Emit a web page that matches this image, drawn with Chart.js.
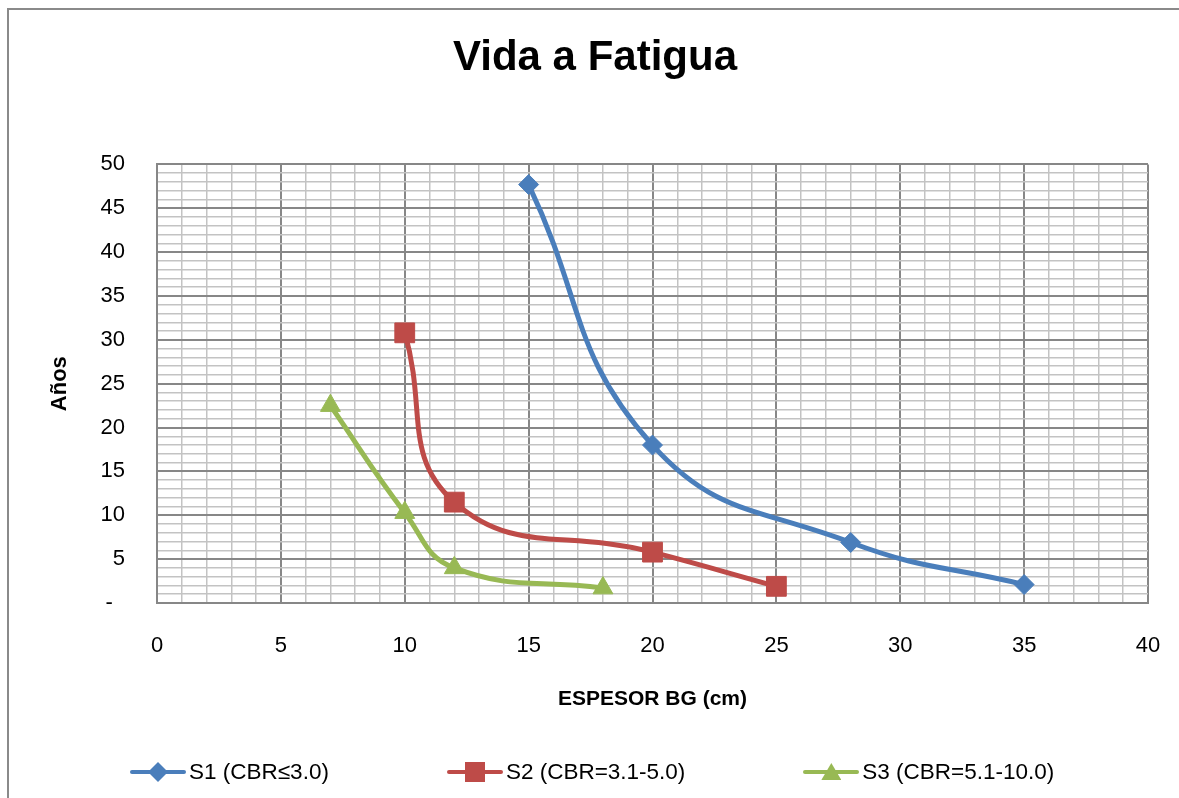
<!DOCTYPE html>
<html>
<head>
<meta charset="utf-8">
<script src="https://cdn.jsdelivr.net/npm/chart.js@4.4.1/dist/chart.umd.min.js"></script>
<style>
    html, body { margin: 0; padding: 0; background: #fff; }
    #wrap { position: relative; width: 1179px; height: 798px; overflow: hidden; }
    #frame {
        position: absolute; left: 7px; top: 8px; width: 1200px; height: 820px;
        border-top: 2px solid #8a8a8a; border-left: 2px solid #8a8a8a;
    }
    #chart { position: absolute; left: 0; top: 0; }
    #legend {
        position: absolute; left: 130px; top: 757px; display: flex; gap: 118px;
        font-family: "Liberation Sans Narrow", "Arial Narrow", "Liberation Sans", sans-serif;
        font-size: 22.5px; color: #000;
    }
    .item { display: flex; align-items: center; height: 30px; }
    .key { position: relative; width: 56px; height: 30px; margin-right: 3px; }
    .key .line { position: absolute; left: 0; right: 0; top: 13px; height: 4px; border-radius: 2px; }
    .key .mark { position: absolute; left: 18px; top: 5px; width: 20px; height: 20px; }
</style>
</head>
<body>
<div id="wrap">
    <div id="frame"></div>
    <canvas id="chart" width="1179" height="798"></canvas>
    <div id="legend"></div>
</div>
<script>
// espesor BG (cm) vs años
const espesorS1 = [15, 20, 28, 35];
const aniosS1 = [47.7, 18.0, 6.9, 2.1];
const espesorS2 = [10, 12, 20, 25];
const aniosS2 = [30.8, 11.5, 5.8, 1.9];
const espesorS3 = [7, 10, 12, 18];
const aniosS3 = [22.5, 10.3, 4.0, 1.7];

const seriesNames = ["S1 (CBR≤3.0)", "S2 (CBR=3.1-5.0)", "S3 (CBR=5.1-10.0)"];
const xTickLabels = [0, 5, 10, 15, 20, 25, 30, 35, 40];
const yTickLabels = ["-", 5, 10, 15, 20, 25, 30, 35, 40, 45, 50];

const blue = "#4a7ebb";
const red = "#be4b48";
const green = "#98b954";
const narrow = '"Liberation Sans Narrow", "Arial Narrow", "Liberation Sans", sans-serif';

function toPoints(xs, ys) {
    return xs.map((x, i) => ({ x: x, y: ys[i] }));
}

function makeSeries(label, xs, ys, colour, style, radius) {
    return {
        label: label,
        data: toPoints(xs, ys),
        borderColor: colour,
        backgroundColor: colour,
        borderWidth: 5,
        pointStyle: style,
        pointRadius: radius,
        pointHoverRadius: radius,
        pointBorderWidth: 1,
        pointBorderColor: colour,
        pointBackgroundColor: colour,
        tension: 0.45,
        fill: false
    };
}

// minor lines every unit, darker ones every 5
function gridColour(ctx) {
    return ctx.tick && ctx.tick.value % 5 === 0 ? "#878787" : "#c3c3c3";
}
function gridWidth(ctx) {
    return ctx.tick && ctx.tick.value % 5 === 0 ? 2 : 1.5;
}

const chart = new Chart(document.getElementById("chart"), {
    type: "line",
    data: {
        datasets: [
            makeSeries(seriesNames[0], espesorS1, aniosS1, blue, "rectRot", 10),
            makeSeries(seriesNames[1], espesorS2, aniosS2, red, "rect", 14),
            makeSeries(seriesNames[2], espesorS3, aniosS3, green, "triangle", 11.5)
        ]
    },
    options: {
        responsive: false,
        animation: false,
        devicePixelRatio: 1,
        layout: { padding: { left: 42, right: 31, top: 0, bottom: 60 } },
        scales: {
            x: {
                type: "linear",
                min: 0,
                max: 40,
                afterFit: scale => {
                    scale.height = 135;
                    scale.paddingLeft = 0;
                    scale.paddingRight = 0;
                },
                border: { display: true, color: "#878787", width: 2 },
                grid: { color: gridColour, lineWidth: gridWidth, drawTicks: false },
                ticks: {
                    stepSize: 1,
                    autoSkip: false,
                    maxRotation: 0,
                    padding: 30,
                    color: "#000",
                    font: { family: narrow, size: 22 },
                    callback: v => xTickLabels.includes(v) ? String(v) : ""
                },
                title: {
                    display: true,
                    text: "ESPESOR BG (cm)",
                    color: "#000",
                    font: { family: narrow, size: 21, weight: "bold" },
                    padding: { top: 0, bottom: 26 }
                }
            },
            y: {
                type: "linear",
                min: 0,
                max: 50,
                afterFit: scale => {
                    scale.width = 115;
                    scale.paddingTop = 0;
                    scale.paddingBottom = 0;
                },
                border: { display: true, color: "#878787", width: 2 },
                grid: { color: gridColour, lineWidth: gridWidth, drawTicks: false },
                ticks: {
                    stepSize: 1,
                    autoSkip: false,
                    padding: 32,
                    color: "#000",
                    font: { family: narrow, size: 22 },
                    callback: v => {
                        if (v % 5 !== 0) return "";
                        const lab = yTickLabels[v / 5];
                        return lab === "-" ? "-  " : String(lab);
                    }
                },
                title: {
                    display: true,
                    text: "Años",
                    color: "#000",
                    font: { family: narrow, size: 22, weight: "bold" },
                    padding: { top: 5, bottom: 0 }
                }
            }
        },
        plugins: {
            legend: { display: false },
            tooltip: { enabled: false },
            title: {
                display: true,
                text: "Vida a Fatigua",
                color: "#000",
                font: { family: narrow, size: 42, weight: "bold" },
                padding: { top: 33, bottom: 81 }
            }
        }
    }
});

// legend built by hand: Excel style line with the marker in the middle
const legendEl = document.getElementById("legend");
const markShapes = {
    rectRot: "polygon(50% 0, 100% 50%, 50% 100%, 0 50%)",
    rect: "polygon(0 0, 100% 0, 100% 100%, 0 100%)",
    triangle: "polygon(50% 5%, 100% 90%, 0 90%)"
};
chart.data.datasets.forEach(ds => {
    const item = document.createElement("div");
    item.className = "item";
    const key = document.createElement("div");
    key.className = "key";
    const line = document.createElement("div");
    line.className = "line";
    line.style.background = ds.borderColor;
    const mark = document.createElement("div");
    mark.className = "mark";
    mark.style.background = ds.borderColor;
    mark.style.clipPath = markShapes[ds.pointStyle];
    key.appendChild(line);
    key.appendChild(mark);
    const text = document.createElement("span");
    text.textContent = ds.label;
    item.appendChild(key);
    item.appendChild(text);
    legendEl.appendChild(item);
});
</script>
</body>
</html>
